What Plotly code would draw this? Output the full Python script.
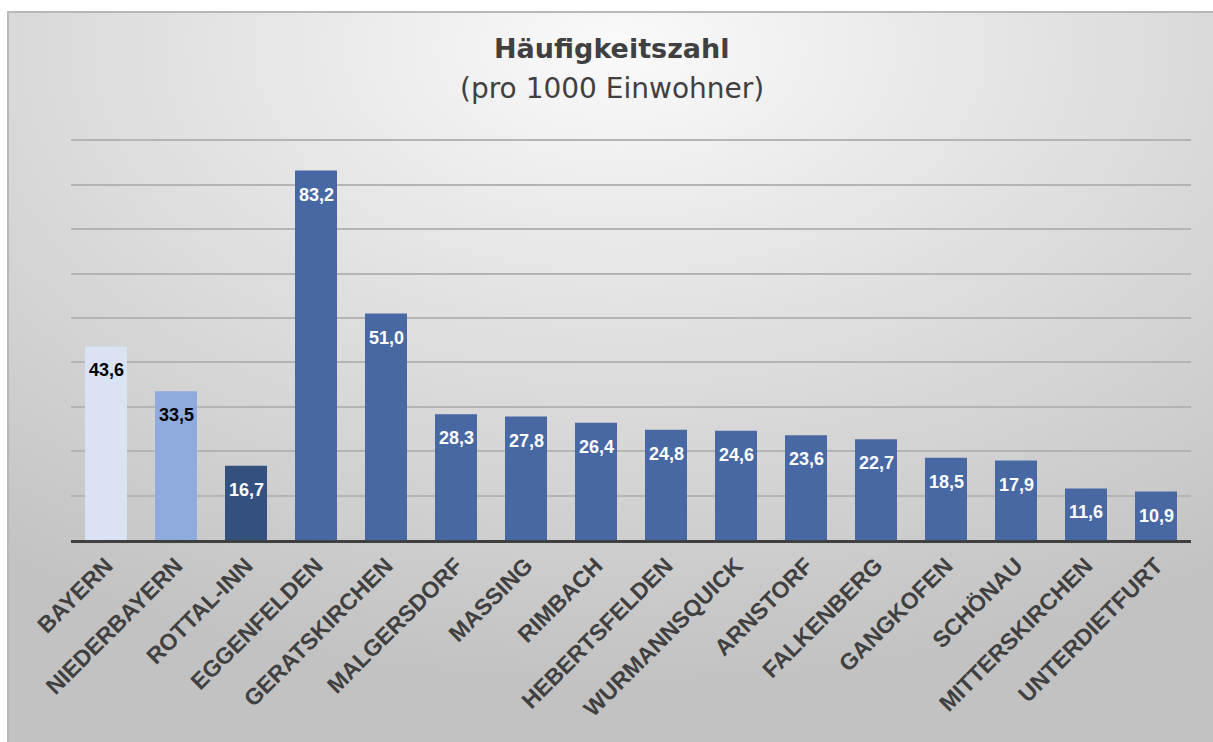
import base64
import plotly.graph_objects as go

categories = ["BAYERN", "NIEDERBAYERN", "ROTTAL-INN", "EGGENFELDEN", "GERATSKIRCHEN",
              "MALGERSDORF", "MASSING", "RIMBACH", "HEBERTSFELDEN", "WURMANNSQUICK",
              "ARNSTORF", "FALKENBERG", "GANGKOFEN", "SCHÖNAU", "MITTERSKIRCHEN",
              "UNTERDIETFURT"]
values = [43.6, 33.5, 16.7, 83.2, 51.0, 28.3, 27.8, 26.4, 24.8, 24.6, 23.6, 22.7,
          18.5, 17.9, 11.6, 10.9]
bar_colors = ["#dae3f3", "#8faadc", "#34507f"] + ["#4868a4"] * 13
label_colors = ["#000000", "#000000"] + ["#ffffff"] * 14

W, H = 1213, 742
L, R, T, B = 71, 1191, 139, 540
pw, ph = R - L, B - T

# background gradient as SVG (extends past the right/bottom edges)
bx, by = 7, 11
bw, bh = W - bx + 20, H - by + 20
svg = f'''<svg xmlns="http://www.w3.org/2000/svg" width="{bw}" height="{bh}" viewBox="0 0 {bw} {bh}" preserveAspectRatio="none">
<defs><radialGradient id="g" cx="0.5" cy="0.05" r="0.85" fx="0.5" fy="0.05">
<stop offset="0" stop-color="#fafafa"/><stop offset="0.45" stop-color="#e0e0e0"/><stop offset="1" stop-color="#c2c2c2"/></radialGradient></defs>
<rect x="0" y="0" width="{bw}" height="{bh}" fill="url(#g)"/>
<line x1="0" y1="1" x2="{bw}" y2="1" stroke="#b8b8b8" stroke-width="2"/>
<line x1="1" y1="0" x2="1" y2="{bh}" stroke="#b8b8b8" stroke-width="2"/>
</svg>'''
src = "data:image/svg+xml;base64," + base64.b64encode(svg.encode()).decode()

fig = go.Figure(go.Bar(x=categories, y=values, marker=dict(color=bar_colors, line=dict(width=0)),
                       hoverinfo="skip"))

annotations = []
for c, v, lc in zip(categories, values, label_colors):
    annotations.append(dict(x=c, y=v, xref="x", yref="y", text=f"{v:.1f}".replace(".", ","),
                            showarrow=False, yanchor="middle", yshift=-24,
                            font=dict(family="Liberation Sans, Arial", size=18, color=lc,
                                      weight="bold")))

def py(p):
    return (B - p) / ph

def px(p):
    return (p - L) / pw

annotations.append(dict(x=px(612), y=py(48), xref="paper", yref="paper", text="<b>Häufigkeitszahl</b>",
                        showarrow=False, yanchor="middle", xanchor="center",
                        font=dict(family="DejaVu Sans", size=27, color="#404040")))
annotations.append(dict(x=px(612), y=py(88), xref="paper", yref="paper", text="(pro 1000 Einwohner)",
                        showarrow=False, yanchor="middle", xanchor="center",
                        font=dict(family="DejaVu Sans", size=28, color="#404040")))

fig.update_layout(
    width=W, height=H,
    margin=dict(l=L, r=W - R, t=T, b=H - B, pad=0),
    paper_bgcolor="white", plot_bgcolor="rgba(0,0,0,0)",
    bargap=0.4, showlegend=False,
    annotations=annotations,
    images=[dict(source=src, xref="paper", yref="paper",
                 x=(bx - L) / pw, y=(B - by) / ph, sizex=bw / pw, sizey=bh / ph,
                 xanchor="left", yanchor="top", sizing="stretch", layer="below")],
    xaxis=dict(showgrid=False, showline=True, linecolor="#404040", linewidth=3,
               tickangle=-45, ticks="", tickfont=dict(family="Liberation Sans, Arial", size=23,
                                                       color="#404040", weight="bold")),
    yaxis=dict(range=[0, 90.3], dtick=10, showgrid=True, gridcolor="#b4b4b4", gridwidth=2,
               showticklabels=False, zeroline=False, showline=False),
)

fig.write_html("out.html", config={"displayModeBar": False},
               post_script="document.body.style.margin='0';document.body.style.overflow='hidden';")
